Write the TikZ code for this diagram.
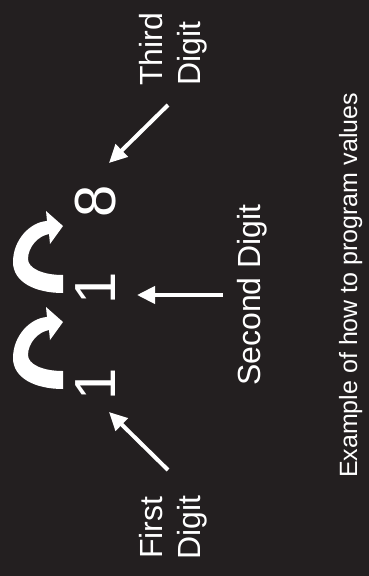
\documentclass[tikz,border=0pt]{standalone}
\usepackage{fontspec}
\setmainfont{Liberation Sans}
\usetikzlibrary{arrows.meta}
\definecolor{bg}{RGB}{35,31,32}
\begin{document}
\begin{tikzpicture}[x=1pt,y=-1pt,
  lbl/.style={text=white, font=\fontsize{32}{37}\selectfont, inner sep=0pt, rotate=90},
  dig/.style={text=white, font=\fontsize{58}{60}\selectfont, inner sep=0pt, rotate=90, anchor=base},
  ptr/.style={draw=white, line width=4pt, -{Triangle[length=18pt,width=17pt]}},
  curv/.style={fill=white}]
\fill[bg] (0,0) rectangle (369,576);
\useasboundingbox (0,0) rectangle (369,576);
% digits
\node[dig] (d1) at (115,384) {1};
\node[dig] (d2) at (115,288) {1};
\node[dig] (d3) at (115,201) {8};
% labels
\node[lbl, anchor=base west] (l1a) at (162,559) {First};
\node[lbl, anchor=base west] (l1b) at (200,559.5) {Digit};
\node[lbl, anchor=base west] (l3a) at (162,86) {Third};
\node[lbl, anchor=base west] (l3b) at (200,86) {Digit};
\node[lbl, anchor=base] (l2) at (260,295) {Second Digit};
\node[text=white, font=\fontsize{25}{30}\selectfont, inner sep=0pt, rotate=90, anchor=base] (cap) at (357,285.5) {Example of how to program values};
% pointer arrows
\coordinate (t1) at (168,470); \coordinate (h1) at (109,412);
\coordinate (t2) at (223,295); \coordinate (h2) at (137,295);
\coordinate (t3) at (168,105); \coordinate (h3) at (109,163);
\draw[ptr] (t1) -- (h1);
\draw[ptr] (t2) -- (h2);
\draw[ptr] (t3) -- (h3);
% curved arrows
\foreach \s in {0,96}{
\begin{scope}[shift={(0,\s)}]
\fill[curv] (63,293) .. controls (35,293) and (13,282) .. (13,262)
  .. controls (13,240) and (30,222) .. (47,221)
  -- (46,211) -- (63,226) -- (50,244) -- (49,234)
  .. controls (38,236) and (28,247) .. (28,259)
  .. controls (28,268) and (42,275) .. (63,275) -- cycle;
\end{scope}}
\end{tikzpicture}
\end{document}
